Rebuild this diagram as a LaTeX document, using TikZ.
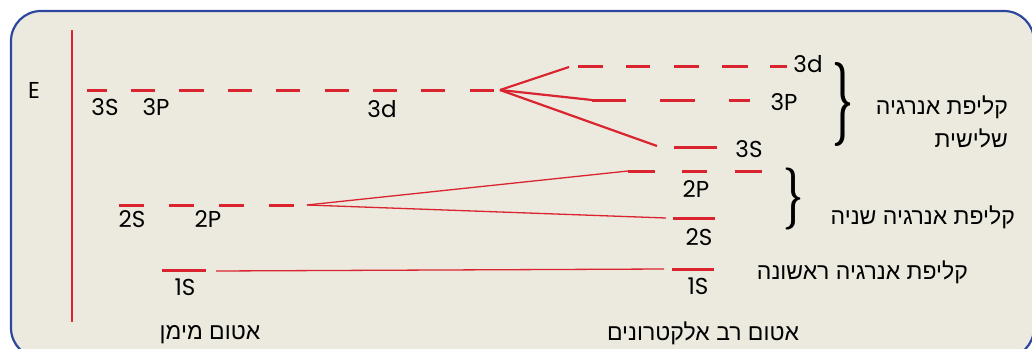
\documentclass[tikz,border=0pt]{standalone}
\usepackage{fontspec}
\setmainfont{Poppins}
\newfontfamily\hebfont[Script=Hebrew]{Liberation Sans}
\newfontfamily\brcfont{Latin Modern Roman}
\TeXXeTstate=1
\definecolor{lvlred}{RGB}{218,37,48}
\definecolor{frameblue}{RGB}{44,72,158}
\definecolor{panel}{RGB}{236,233,222}

\begin{document}
\begin{tikzpicture}[
            x=1pt, y=-1pt,
            lvl/.style={draw=lvlred, line width=3pt},
            fan/.style={draw=lvlred, line width=2.2pt},
            thinfan/.style={draw=lvlred, line width=1.3pt},
            orb/.style={anchor=base, inner sep=0pt,
              font=\fontsize{23}{23}\selectfont},
            heb/.style={font=\hebfont\fontsize{23}{33}\selectfont,
              align=right, inner sep=0pt},
            brc/.style={inner sep=0pt, font=\brcfont\bfseries}
        ]
    \useasboundingbox (0,0) rectangle (1032,348);
    \clip (0,0) rectangle (1032,348);
    \draw[frameblue, fill=panel, line width=2.2pt, rounded corners=30pt]
      (11,11) rectangle (1034,358);

    \coordinate (axtop) at (72,30);
    \coordinate (axbot) at (72,322);
    \draw[lvlred, line width=2pt] (axtop) -- (axbot);
    \node[orb] (E) at (34,98) {E};

    % hydrogen atom
    \foreach \a/\b in {87/107,131/155,179/204,228/252,276/300,325/349,373/397,421/445,470/494}
      \draw[lvl] (\a,90) -- (\b,90);
    \foreach \a/\b in {119/144,169/194,219/244,269/294}
      \draw[lvl] (\a,205) -- (\b,205);
    \draw[lvl] (162,270) -- (206,270);

    \node[orb] (h3s) at (105,115) {3S};
    \node[orb] (h3p) at (156,115) {3P};
    \node[orb] (h3d) at (382,117) {3d};
    \node[orb] (h2s) at (132,227) {2S};
    \node[orb] (h2p) at (208,227) {2P};
    \node[orb] (h1s) at (185,295) {1S};

    % many-electron atom
    \foreach \a/\b in {578/603,626/650,674/699,722/748,770/787}
      \draw[lvl] (\a,66) -- (\b,66);
    \foreach \a/\b in {592/626,660/695,729/750}
      \draw[lvl] (\a,100) -- (\b,100);
    \draw[lvl] (674,147) -- (717,147);
    \foreach \a/\b in {628/655,682/707,735/762}
      \draw[lvl] (\a,171) -- (\b,171);
    \draw[lvl] (673,218) -- (715,218);
    \draw[lvl] (672,269) -- (714,269);

    \node[orb] (m3d) at (808,72) {3d};
    \node[orb] (m3p) at (784,110) {3P};
    \node[orb] (m3s) at (749,157) {3S};
    \node[orb] (m2p) at (696,197) {2P};
    \node[orb] (m2s) at (699,245) {2S};
    \node[orb] (m1s) at (698,294) {1S};

    % splitting
    \coordinate (split3) at (500,90);
    \coordinate (to3d) at (569,67);
    \coordinate (to3p) at (592,100);
    \coordinate (to3s) at (657,146);
    \draw[fan] (split3) -- (to3d);
    \draw[fan] (split3) -- (to3p);
    \draw[fan] (split3) -- (to3s);

    \coordinate (split2) at (307,205);
    \coordinate (to2p) at (628,171);
    \coordinate (to2s) at (666,218);
    \draw[thinfan] (split2) -- (to2p);
    \draw[thinfan] (split2) -- (to2s);

    \coordinate (from1s) at (216,271);
    \coordinate (to1s) at (664,269);
    \draw[thinfan] (from1s) -- (to1s);

    % shells
    \node[brc] (brace3) at (843,104) {\resizebox*{21pt}{84pt}{\}}};
    \node[brc] (brace2) at (793,199) {\resizebox*{20pt}{62pt}{\}}};

    \node[heb, anchor=east] (shell3) at (1008,122)
      {\beginR קליפת אנרגיה\endR\\\beginR שלישית\endR};
    \node[heb, anchor=east] (shell2) at (1015,217)
      {\beginR קליפת אנרגיה שניה\endR};
    \node[heb, anchor=east] (shell1) at (968,272)
      {\beginR קליפת אנרגיה ראשונה\endR};

    \node[heb] (manyatom) at (703,333) {\beginR אטום רב אלקטרונים\endR};
    \node[heb] (hatom) at (210,335) {\beginR אטום מימן\endR};

    \end{tikzpicture}
\end{document}
